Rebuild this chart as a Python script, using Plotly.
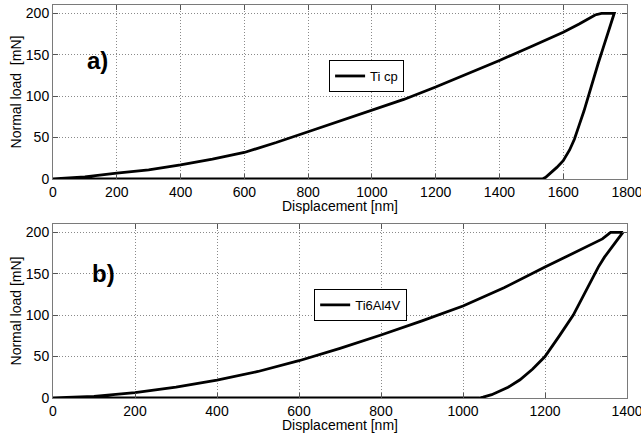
import plotly.graph_objects as go

# Ti cp (a)
a_load_disp = [0, 100, 200, 300, 400, 500, 600, 700, 800, 900, 1000, 1100, 1200, 1300, 1400, 1500, 1600, 1650, 1700, 1720, 1750]
a_load_val = [0, 2.5, 7, 11, 17, 24, 32, 44, 57, 70, 83, 96, 111, 127, 143, 160, 177, 187, 198, 200, 200]
a_unl_disp = [1760, 1750, 1740, 1725, 1710, 1695, 1680, 1665, 1650, 1635, 1620, 1600, 1580, 1560, 1545, 1535, 0]
a_unl_val = [200, 188, 175, 158, 140, 120, 100, 82, 65, 48, 35, 22, 14, 7, 2, 0, 0]

# Ti6Al4V (b)
b_load_disp = [0, 100, 200, 300, 400, 500, 600, 700, 800, 900, 1000, 1100, 1200, 1250, 1300, 1340, 1360, 1385]
b_load_val = [0, 2, 6.5, 13, 21.5, 32, 45, 60, 76, 93, 111, 133, 158, 170, 182, 192, 200, 200]
b_unl_disp = [1390, 1375, 1360, 1345, 1330, 1300, 1269, 1235, 1200, 1170, 1139, 1110, 1090, 1070, 1049, 1040, 0]
b_unl_val = [200, 190, 180, 170, 158, 130, 100, 75, 50, 35, 22, 13, 8, 4, 1, 0, 0]

a_ticks = [0, 200, 400, 600, 800, 1000, 1200, 1400, 1600, 1800]
b_ticks = [0, 200, 400, 600, 800, 1000, 1200, 1400]
y_ticks = [0, 50, 100, 150, 200]
x_title = "Displacement [nm]"
a_y_title = "Normal load\u00a0 [mN]"
b_y_title = "Normal load [mN]"

FONT = "Liberation Sans, Arial, sans-serif"

fig = go.Figure()
fig.add_trace(go.Scatter(x=a_load_disp + a_unl_disp, y=a_load_val + a_unl_val,
                         mode="lines", name="Ti cp", line=dict(color="black", width=2.8),
                         xaxis="x", yaxis="y", legend="legend"))
fig.add_trace(go.Scatter(x=b_load_disp + b_unl_disp, y=b_load_val + b_unl_val,
                         mode="lines", name="Ti6Al4V", line=dict(color="black", width=2.8),
                         xaxis="x2", yaxis="y2", legend="legend2"))

axis_common = dict(showgrid=True, gridcolor="#8a8a8a", griddash="1px,2px", gridwidth=1,
                   showline=True, linecolor="#7a7a7a", linewidth=1, mirror="ticks",
                   ticks="inside", ticklen=5, tickcolor="#555", zeroline=False,
                   automargin=False, ticklabeloverflow="allow",
                   tickfont=dict(family=FONT, size=14, color="black"))

fig.update_layout(
    width=641, height=434,
    margin=dict(l=53, r=14, t=5, b=36),
    paper_bgcolor="white", plot_bgcolor="white",
    font=dict(family=FONT, size=14, color="black"),
    xaxis=dict(domain=[0, 1], range=[0, 1800], tickvals=a_ticks, anchor="y", **axis_common),
    yaxis=dict(domain=[0.5573, 1], range=[0, 210], tickvals=y_ticks, anchor="x",
               title=dict(text=a_y_title, standoff=0, font=dict(size=14)), **axis_common),
    xaxis2=dict(domain=[0, 1], range=[0, 1400], tickvals=b_ticks, anchor="y2", **axis_common),
    yaxis2=dict(domain=[0, 0.4427], range=[0, 210], tickvals=y_ticks, anchor="x2",
                title=dict(text=b_y_title, standoff=0, font=dict(size=14)), **axis_common),
    legend=dict(x=0.481, y=0.8193, xanchor="left", yanchor="middle", bgcolor="white",
                bordercolor="black", borderwidth=1, font=dict(size=13),
                itemwidth=30, tracegroupgap=0),
    legend2=dict(x=0.455, y=0.2366, xanchor="left", yanchor="middle", bgcolor="white",
                 bordercolor="black", borderwidth=1, font=dict(size=13),
                 itemwidth=30, tracegroupgap=0),
    showlegend=True,
    annotations=[
        dict(text="<b>a)</b>", x=0.056, y=0.77, xref="x domain", yref="y domain",
             showarrow=False, font=dict(size=24, family=FONT, color="black")),
        dict(text="<b>b)</b>", x=0.065, y=0.805, xref="x2 domain", yref="y2 domain",
             showarrow=False, font=dict(size=24, family=FONT, color="black")),
        dict(text=x_title, x=0.5, y=0.4885, xref="paper", yref="paper",
             xanchor="center", yanchor="middle", showarrow=False,
             font=dict(size=14, family=FONT, color="black")),
        dict(text=x_title, x=0.5, y=-0.0687, xref="paper", yref="paper",
             xanchor="center", yanchor="middle", showarrow=False,
             font=dict(size=14, family=FONT, color="black")),
    ],
)

fig.write_html("out.html", config={"displayModeBar": False},
               post_script="document.body.style.margin='0';")
